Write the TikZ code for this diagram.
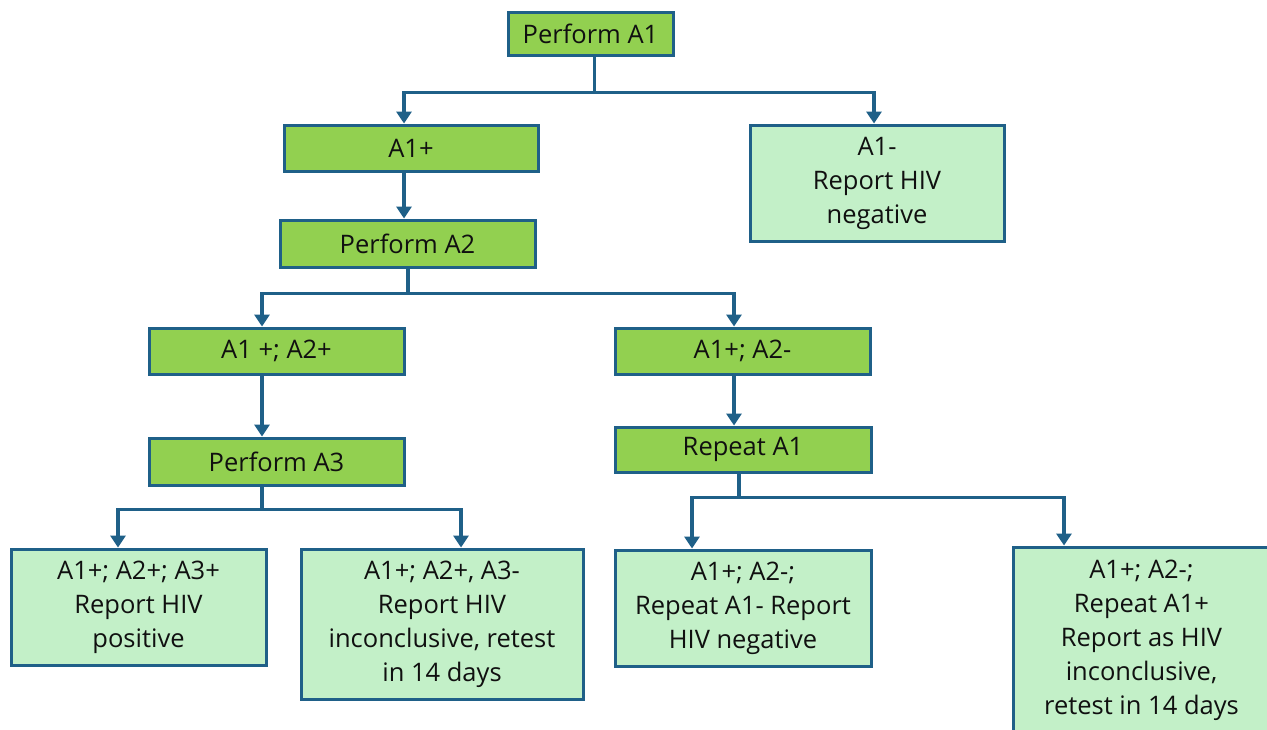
\documentclass[tikz,border=0pt]{standalone}
\usepackage{fontspec}
\setmainfont{Open Sans}
\usetikzlibrary{arrows.meta}
\definecolor{edgeblue}{HTML}{1F6088}
\definecolor{stepgreen}{HTML}{92D050}
\definecolor{resultgreen}{HTML}{C3F0C8}
\definecolor{inkgray}{HTML}{101010}
\tikzset{
  flowbox/.style={draw=edgeblue, line width=3pt, rectangle, inner sep=0pt,
    align=center, text=inkgray,
    font=\fontsize{25.5}{34}\selectfont},
  stepbox/.style={flowbox, fill=stepgreen},
  resultbox/.style={flowbox, fill=resultgreen},
  conn/.style={draw=edgeblue, line width=3.2pt},
  arr/.style={conn, -{Triangle[width=15pt,length=12pt]}}
}
\begin{document}
\begin{tikzpicture}[x=1pt,y=-1pt]
\useasboundingbox (0,0) rectangle (1267,729);
\clip (0,0) rectangle (1267,729);
\fill[white] (0,0) rectangle (1267,729);

% top level
\node[stepbox, minimum width=165pt, minimum height=43pt] (pa1) at (590.5,33.5) {Perform A1};
\node[stepbox, minimum width=254pt, minimum height=46pt] (a1p) at (411,148) {A1+};
\node[resultbox, minimum width=254pt, minimum height=116pt] (a1n) at (877,183) {A1-\\Report HIV\\negative};
\node[stepbox, minimum width=255pt, minimum height=47pt] (pa2) at (407.5,243.5) {Perform A2};

% second split
\node[stepbox, minimum width=255pt, minimum height=46pt] (pp) at (276.5,351) {A1 +; A2+};
\node[stepbox, minimum width=255pt, minimum height=46pt] (pn) at (742.5,351) {A1+; A2-};
\node[stepbox, minimum width=255pt, minimum height=47pt] (pa3) at (276.5,461.5) {Perform A3};
\node[stepbox, minimum width=256pt, minimum height=45pt] (rep) at (743,449.5) {Repeat A1};

% outcomes
\node[resultbox, minimum width=255pt, minimum height=116pt] (r1) at (138.5,607) {A1+; A2+; A3+\\Report HIV\\positive};
\node[resultbox, minimum width=282pt, minimum height=150pt] (r2) at (442,624) {A1+; A2+, A3-\\Report HIV\\inconclusive, retest\\in 14 days};
\node[resultbox, minimum width=256pt, minimum height=116pt] (r3) at (743,608) {A1+; A2-;\\Repeat A1- Report\\HIV negative};
\node[resultbox, minimum width=257pt, minimum height=186pt] (r4) at (1141.5,640) {A1+; A2-;\\Repeat A1+\\Report as HIV\\inconclusive,\\retest in 14 days};

% connectors
\draw[conn] ([xshift=4pt]pa1.south) -- ++(0,36) coordinate (j1);
\draw[arr] (j1) -| ([xshift=-7pt]a1p.north);
\draw[arr] (j1) -| ([xshift=-3pt]a1n.north);
\draw[arr] ([xshift=-7pt]a1p.south) -- ([xshift=-3.5pt]pa2.north);

\draw[conn] ([xshift=0.5pt]pa2.south) -- ++(0,25) coordinate (j2);
\draw[arr] (j2) -| ([xshift=-14.5pt]pp.north);
\draw[arr] (j2) -| ([xshift=-8.5pt]pn.north);
\draw[arr] ([xshift=-14.5pt]pp.south) -- ([xshift=-14.5pt]pa3.north);
\draw[arr] ([xshift=-8.5pt]pn.south) -- ([xshift=-9pt]rep.north);

\draw[conn] ([xshift=-14.5pt]pa3.south) -- ++(0,23) coordinate (j3);
\draw[arr] (j3) -| ([xshift=-20.5pt]r1.north);
\draw[arr] (j3) -| ([xshift=19pt]r2.north);

\draw[conn] ([xshift=-4pt]rep.south) -- ++(0,24) coordinate (j4);
\draw[arr] (j4) -| ([xshift=-51pt]r3.north);
\draw[arr] (j4) -| ([xshift=-77.5pt]r4.north);
\end{tikzpicture}
\end{document}
